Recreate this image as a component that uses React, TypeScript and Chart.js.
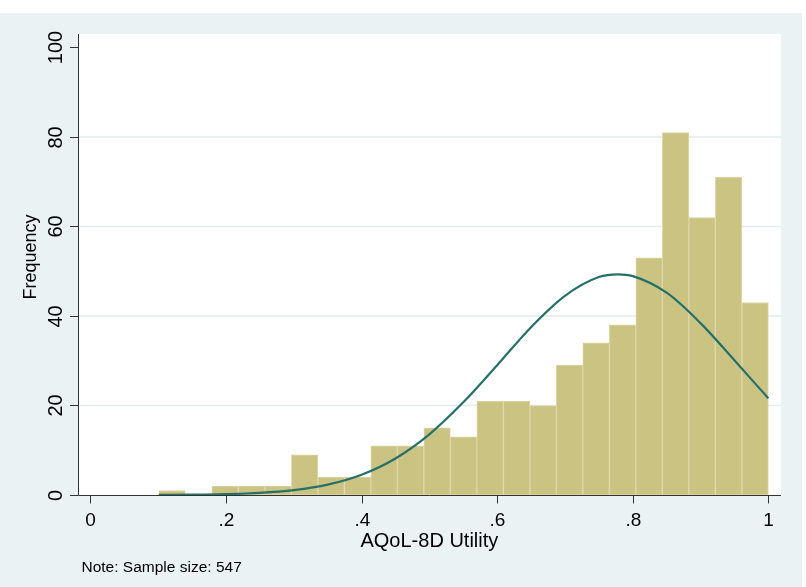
import React, { useEffect, useRef } from 'react';
import { Chart, registerables } from 'chart.js';

Chart.register(...registerables);

// ---- data ----
const binCenters = [
  0.1205, 0.1596, 0.1987, 0.2378, 0.2769, 0.316, 0.3551, 0.3942, 0.4332, 0.4723, 0.5114, 0.5505,
  0.5896, 0.6287, 0.6678, 0.7068, 0.7459, 0.785, 0.8241, 0.8632, 0.9023, 0.9414, 0.9805,
];
const frequencies = [1, 0, 2, 2, 2, 9, 4, 4, 11, 11, 15, 13, 21, 21, 20, 29, 34, 38, 53, 81, 62, 71, 43];

const curveX = [0.101, 0.15, 0.2, 0.25, 0.3, 0.35, 0.4, 0.45, 0.5, 0.55, 0.6, 0.65, 0.7, 0.75, 0.778, 0.8, 0.85, 0.9, 0.95, 1.0];
const curveY = [0.03, 0.07, 0.19, 0.47, 1.09, 2.31, 4.53, 8.17, 13.56, 20.7, 29.0, 37.5, 44.5, 48.7, 49.3, 48.9, 45.2, 38.4, 30.1, 21.6];

const xTickValues = [0, 0.2, 0.4, 0.6, 0.8, 1];
const xTickLabels = ['0', '.2', '.4', '.6', '.8', '1'];
const yTickValues = [0, 20, 40, 60, 80, 100];
const yTickLabels = ['0', '20', '40', '60', '80', '100'];
const gridValues = [20, 40, 60, 80];

const xTitle = 'AQoL-8D Utility';
const yTitle = 'Frequency';
const noteText = 'Note: Sample size: 547';

const FONT = '"Liberation Sans", Arial, Helvetica, sans-serif';
const BG = '#EAF2F3';
const BAR_FILL = '#CBC382';
const BAR_EDGE = '#DCD6A6';
const CURVE = '#27706A';
const AXIS = '#333333';
const GRID = '#E2EBEE';

const stataPlugin = {
  id: 'stataLook',
  beforeDraw(chart: any) {
    const { ctx, width, height, chartArea } = chart;
    ctx.save();
    ctx.fillStyle = '#ffffff';
    ctx.fillRect(0, 0, width, height);
    ctx.fillStyle = BG;
    ctx.fillRect(0, 13, 802, height - 13);
    ctx.fillStyle = '#ffffff';
    ctx.fillRect(chartArea.left, chartArea.top, chartArea.right - chartArea.left, chartArea.bottom - chartArea.top);
    ctx.restore();
  },
  beforeDatasetsDraw(chart: any) {
    const { ctx, chartArea, scales } = chart;
    const y = scales.y;
    ctx.save();
    ctx.strokeStyle = GRID;
    ctx.lineWidth = 1.5;
    gridValues.forEach((v) => {
      const py = y.getPixelForValue(v);
      ctx.beginPath();
      ctx.moveTo(chartArea.left, py);
      ctx.lineTo(chartArea.right, py);
      ctx.stroke();
    });
    ctx.restore();
  },
  afterDraw(chart: any) {
    const { ctx, chartArea, scales } = chart;
    const x = scales.x;
    const y = scales.y;
    ctx.save();
    ctx.strokeStyle = AXIS;
    ctx.lineWidth = 1;
    const ax = chartArea.left + 0.5;
    const ay = chartArea.bottom + 0.5;
    ctx.beginPath();
    ctx.moveTo(ax, chartArea.top);
    ctx.lineTo(ax, ay);
    ctx.lineTo(chartArea.right, ay);
    ctx.stroke();

    // y ticks + labels
    ctx.fillStyle = '#000000';
    ctx.font = `20px ${FONT}`;
    yTickValues.forEach((v, i) => {
      const py = Math.round(y.getPixelForValue(v)) + 0.5;
      ctx.beginPath();
      ctx.moveTo(ax - 8.5, py);
      ctx.lineTo(ax, py);
      ctx.stroke();
      ctx.save();
      ctx.translate(61.5, py);
      ctx.rotate(-Math.PI / 2);
      ctx.textAlign = 'center';
      ctx.textBaseline = 'alphabetic';
      ctx.fillText(yTickLabels[i], 0, 0);
      ctx.restore();
    });

    // x ticks + labels
    ctx.font = `19px ${FONT}`;
    ctx.textAlign = 'center';
    ctx.textBaseline = 'alphabetic';
    xTickValues.forEach((v, i) => {
      const px = Math.round(x.getPixelForValue(v)) + 0.5;
      ctx.beginPath();
      ctx.moveTo(px, ay);
      ctx.lineTo(px, ay + 8);
      ctx.stroke();
      ctx.fillText(xTickLabels[i], px, 526);
    });

    // x title
    ctx.font = `20px ${FONT}`;
    const xMid = (x.getPixelForValue(0) + x.getPixelForValue(1)) / 2;
    ctx.fillText(xTitle, xMid, 547);

    // y title
    ctx.save();
    ctx.font = `18px ${FONT}`;
    ctx.translate(36, 257);
    ctx.rotate(-Math.PI / 2);
    ctx.textAlign = 'center';
    ctx.fillText(yTitle, 0, 0);
    ctx.restore();

    // note
    ctx.font = `15.5px ${FONT}`;
    ctx.textAlign = 'left';
    ctx.fillText(noteText, 81.5, 571.5);
    ctx.restore();
  },
};

export default function App() {
  const canvasRef = useRef<HTMLCanvasElement | null>(null);

  useEffect(() => {
    document.body.style.margin = '0';
    const canvas = canvasRef.current;
    if (!canvas) return;
    const chart = new Chart(canvas, {
      type: 'bar',
      data: {
        datasets: [
          {
            type: 'line',
            data: curveX.map((cx, i) => ({ x: cx, y: curveY[i] })),
            borderColor: CURVE,
            borderWidth: 2.2,
            pointRadius: 0,
            fill: false,
            cubicInterpolationMode: 'monotone',
            order: 0,
          } as any,
          {
            type: 'bar',
            data: binCenters.map((c, i) => ({ x: c, y: frequencies[i] })),
            backgroundColor: BAR_FILL,
            borderColor: BAR_EDGE,
            borderWidth: 1,
            borderSkipped: false,
            barPercentage: 1,
            categoryPercentage: 1,
            order: 1,
          } as any,
        ],
      },
      options: {
        responsive: false,
        devicePixelRatio: 1,
        animation: false,
        events: [],
        layout: { padding: { left: 78, top: 34, right: 25, bottom: 92 } },
        plugins: {
          legend: { display: false },
          tooltip: { enabled: false },
          title: { display: false },
        },
        scales: {
          x: {
            type: 'linear',
            min: -0.0183,
            max: 1.0187,
            offset: false,
            ticks: { display: false },
            grid: { display: false, drawTicks: false },
            border: { display: false },
          },
          y: {
            type: 'linear',
            min: 0,
            max: 103,
            ticks: { display: false, stepSize: 20 },
            grid: { display: false, drawTicks: false },
            border: { display: false },
          },
        },
      },
      plugins: [stataPlugin],
    });
    return () => chart.destroy();
  }, []);

  return (
    <canvas
      ref={canvasRef}
      width={806}
      height={587}
      style={{ display: 'block', width: 806, height: 587 }}
    />
  );
}
